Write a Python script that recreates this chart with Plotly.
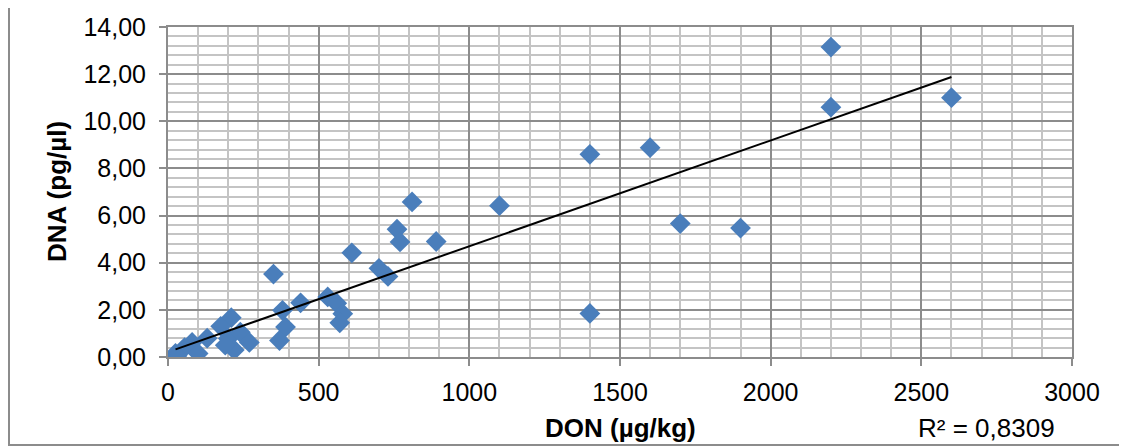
import numpy as np
import plotly.graph_objects as go

# DON (µg/kg) vs DNA (pg/µl)
don = [2200, 2600, 2200, 1600, 1400, 810, 1100, 1700, 1900, 760,
       770, 890, 610, 350, 700, 730, 530, 440, 560, 580,
       570, 1400, 380, 390, 370, 210, 175, 130, 80, 55,
       25, 100, 200, 240, 270, 220, 190, 30]
dna = [13.15, 11.0, 10.6, 8.88, 8.6, 6.58, 6.42, 5.66, 5.47, 5.42,
       4.88, 4.9, 4.42, 3.52, 3.76, 3.42, 2.55, 2.3, 2.28, 1.84,
       1.45, 1.85, 1.98, 1.27, 0.7, 1.67, 1.3, 0.8, 0.62, 0.4,
       0.15, 0.15, 0.78, 1.05, 0.62, 0.3, 0.5, 0.05]

x_ticks = [0, 500, 1000, 1500, 2000, 2500, 3000]
x_tick_labels = ["0", "500", "1000", "1500", "2000", "2500", "3000"]
y_ticks = [0, 2, 4, 6, 8, 10, 12, 14]
y_tick_labels = ["0,00", "2,00", "4,00", "6,00", "8,00", "10,00", "12,00", "14,00"]

x_title = "DON (µg/kg)"
y_title = "DNA (pg/µl)"
r2_label = "R² = 0,8309"

# linear trendline fitted to the data
slope, intercept = np.polyfit(don, dna, 1)
tx = np.array([min(don), max(don)])
ty = slope * tx + intercept

FONT = "Liberation Sans, Arial, sans-serif"
BLUE = "#4A7EBB"
MAJOR = "#8C8C8C"
MINOR = "#C4C4C4"

fig = go.Figure()
fig.add_trace(go.Scatter(
    x=don, y=dna, mode="markers",
    marker=dict(symbol="diamond", size=16, color=BLUE, line=dict(width=0)),
    showlegend=False, hoverinfo="x+y"))
fig.add_trace(go.Scatter(
    x=tx, y=ty, mode="lines", line=dict(color="black", width=2),
    showlegend=False, hoverinfo="skip"))

# the page body has an 8px margin, so the figure starts at (8, 8)
OFF = 8
W, H = 1127 - OFF, 446 - OFF
# plot area in reference pixels: x 168..1072, y 27..357
L, R, T, B = 168 - OFF, 1127 - 1072, 27 - OFF, 446 - 357
pw, ph = W - L - R, H - T - B

def px2paper_x(px):
    return (px - 168) / pw

def px2paper_y(py):
    return (357 - py) / ph

fig.update_layout(
    width=W, height=H,
    margin=dict(l=L, r=R, t=T, b=B, pad=0, autoexpand=False),
    paper_bgcolor="white", plot_bgcolor="white",
    font=dict(family=FONT, size=25, color="black"),
    xaxis=dict(
        range=[0, 3000], tickvals=x_ticks, ticktext=x_tick_labels,
        showgrid=True, gridcolor=MAJOR, gridwidth=2,
        minor=dict(dtick=100, tick0=0, showgrid=True, gridcolor=MINOR, gridwidth=2, ticks=""),
        showline=True, linecolor=MAJOR, linewidth=2, mirror=True,
        ticks="outside", ticklen=7, tickcolor=MAJOR, tickwidth=2,
        zeroline=False, ticklabelstandoff=5, automargin=False,
        tickfont=dict(size=25, family=FONT),
    ),
    yaxis=dict(
        range=[0, 14], tickvals=y_ticks, ticktext=y_tick_labels,
        showgrid=True, gridcolor=MAJOR, gridwidth=2,
        minor=dict(dtick=0.4, tick0=0, showgrid=True, gridcolor=MINOR, gridwidth=2, ticks=""),
        showline=True, linecolor=MAJOR, linewidth=2, mirror=True,
        ticks="outside", ticklen=7, tickcolor=MAJOR, tickwidth=2,
        zeroline=False, ticklabelstandoff=8, automargin=False,
        tickfont=dict(size=25, family=FONT),
    ),
    shapes=[dict(
        type="rect", xref="paper", yref="paper",
        x0=px2paper_x(9), x1=px2paper_x(1125),
        y0=px2paper_y(445), y1=px2paper_y(6),
        line=dict(color=MAJOR, width=2), fillcolor="rgba(0,0,0,0)", layer="below")],
    annotations=[
        dict(text="<b>" + x_title + "</b>", xref="paper", yref="paper",
             x=0.5, y=px2paper_y(428), xanchor="center", yanchor="middle",
             showarrow=False, font=dict(size=26, family=FONT)),
        dict(text="<b>" + y_title + "</b>", xref="paper", yref="paper",
             x=px2paper_x(57), y=0.5, xanchor="center", yanchor="middle",
             textangle=-90, showarrow=False, font=dict(size=26, family=FONT)),
        dict(text=r2_label, xref="paper", yref="paper",
             x=px2paper_x(986), y=px2paper_y(428), xanchor="center", yanchor="middle",
             showarrow=False, font=dict(size=26, family=FONT)),
    ],
)

fig.write_html("out.html")
